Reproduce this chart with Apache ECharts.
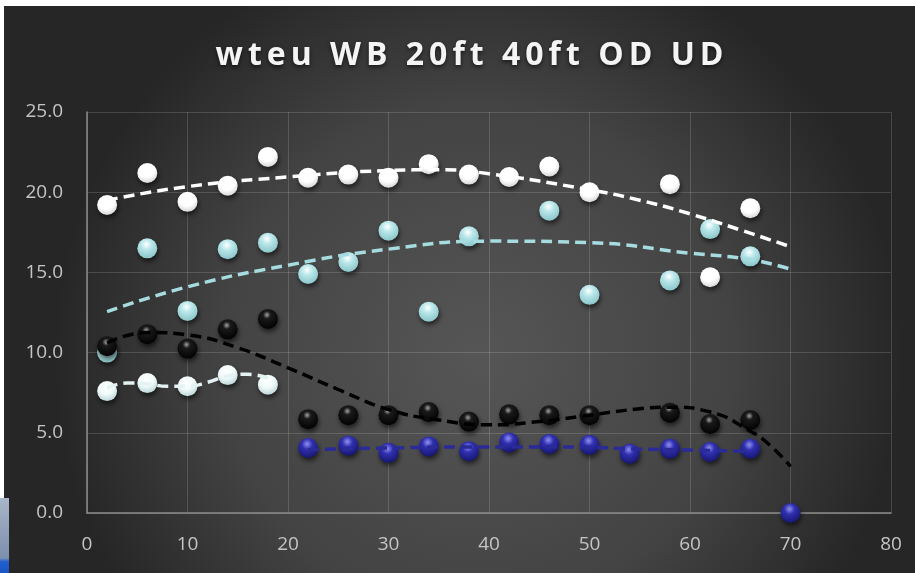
<!DOCTYPE html>
<html><head><meta charset="utf-8">
<script src="https://cdn.jsdelivr.net/npm/echarts@6/dist/echarts.min.js"></script>
<style>html,body{margin:0;padding:0;background:#fff;}#c{width:915px;height:573px;}</style>
</head><body><div id="c"></div>
<script>
// ---- data ----
const titleText = "wteu WB 20ft 40ft OD UD";
const xTicks = [0, 80, 10];   // min, max, interval
const yTicks = [0, 25, 5];

const whiteX = [2,6,10,14,18,22,26,30,34,38,42,46,50,58,62,66];
const whiteY = [19.2,21.2,19.4,20.4,22.2,20.9,21.1,20.9,21.75,21.1,20.95,21.6,20.0,20.5,14.7,19.0];

const cyanX = [2,6,10,14,18,22,26,30,34,38,46,50,58,62,66];
const cyanY = [10.0,16.5,12.6,16.45,16.85,14.9,15.65,17.6,12.55,17.25,18.85,13.6,14.5,17.7,16.0];

const blackX = [2,6,10,14,18,22,26,30,34,38,42,46,50,58,62,66];
const blackY = [10.4,11.15,10.25,11.45,12.1,5.85,6.1,6.1,6.3,5.7,6.15,6.1,6.1,6.25,5.55,5.8];

const paleX = [2,6,10,14,18];
const paleY = [7.6,8.1,7.9,8.6,8.0];

const blueX = [22,26,30,34,38,42,46,50,54,58,62,66,70];
const blueY = [4.05,4.2,3.75,4.15,3.85,4.4,4.3,4.25,3.7,4.0,3.8,4.0,0.0];

// trendline readings
const whiteTrendX = [2,10,20,30,35,40,50,55,60,65,70];
const whiteTrendY = [19.5,20.35,20.95,21.35,21.4,21.15,20.15,19.5,18.65,17.65,16.6];
const cyanTrendX = [2,10,20,30,40,50,60,66,70];
const cyanTrendY = [12.55,14.1,15.45,16.45,16.95,16.85,16.2,15.8,15.2];
const blackTrendX = [2,6,10,15,20,25,30,35,40,45,50,55,58,62,66,68,70];
const blackTrendY = [10.6,11.25,11.1,10.3,9.05,7.7,6.45,5.8,5.5,5.7,6.1,6.5,6.6,6.3,5.1,4.2,2.9];
const paleTrendX = [2,4,6,8,10,12,14,16,18];
const paleTrendY = [7.8,8.1,8.05,7.9,7.9,8.15,8.55,8.65,8.4];
const blueTrendX = [22,30,38,46,50,54,60,66];
const blueTrendY = [3.95,4.05,4.12,4.12,4.1,4.0,3.92,3.85];

function zip(xs, ys){ return xs.map((x,i)=>[x, ys[i]]); }

function sphere(c0, c1, c2, mid){
  return {type:'radial', x:0.45, y:0.3, r:0.75,
    colorStops:[{offset:0,color:c0},{offset:mid,color:c1},{offset:1,color:c2}]};
}

function scatter(name, xs, ys, col){
  return {name, type:'scatter', data: zip(xs, ys), symbolSize: 20, z: 3,
    itemStyle:{color: col, opacity:1, shadowBlur:5, shadowColor:'rgba(0,0,0,0.6)', shadowOffsetY:3, shadowOffsetX:1}};
}
function trend(name, xs, ys, col){
  return {name, type:'line', data: zip(xs, ys), smooth: 0.5, showSymbol:false, symbol:'none', z: 5,
    lineStyle:{color: col, width: 3.5, type:[11,6], cap:'butt'}};
}

const chart = echarts.init(document.getElementById('c'), null, {renderer:'canvas'});
chart.setOption({
  animation:false,
  backgroundColor:'transparent',
  graphic:[
    {type:'rect', z:-10, shape:{x:4,y:6,width:911,height:567},
      style:{fill:{type:'radial', x:0.52, y:0.62, r:0.75,
        colorStops:[{offset:0,color:'#565656'},{offset:0.6,color:'#434343'},{offset:1,color:'#262626'}]}}},
    {type:'rect', z:-9, shape:{x:0,y:498,width:9,height:75},
      style:{fill:{type:'linear', x:0,y:0,x2:0,y2:1,
        colorStops:[{offset:0,color:'#aab6c8'},{offset:0.8,color:'#7d8fae'},{offset:0.85,color:'#1f5fd0'},{offset:1,color:'#1a56c4'}]}}}
  ],
  title:{text:titleText, left:467, top:35, textAlign:'center', zlevel:1,
    textStyle:{color:'#f4f4f4', fontFamily:'Open Sans', fontWeight:'bold', fontSize:32,
      textShadowColor:'rgba(0,0,0,0.6)', textShadowBlur:4, textShadowOffsetY:2}},
  grid:{left:87, right:24, top:112, bottom:60},
  xAxis:{type:'value', min:xTicks[0], max:xTicks[1], interval:xTicks[2],
    axisLine:{show:true, onZero:false, lineStyle:{color:'#8c8c8c', width:1.5}},
    axisTick:{show:false},
    axisLabel:{color:'#c4c4c4', fontFamily:'Open Sans', fontSize:19, margin:22},
    splitLine:{show:true, lineStyle:{color:'rgba(255,255,255,0.15)', width:1}}},
  yAxis:{type:'value', min:yTicks[0], max:yTicks[1], interval:yTicks[2],
    axisLine:{show:true, onZero:false, lineStyle:{color:'#8c8c8c', width:1.5}},
    axisTick:{show:false},
    axisLabel:{color:'#c4c4c4', fontFamily:'Open Sans', fontSize:19, margin:24,
      formatter:v=>v.toFixed(1)},
    splitLine:{show:true, lineStyle:{color:'rgba(255,255,255,0.15)', width:1}}},
  series:[
    scatter('white', whiteX, whiteY, sphere('#ffffff','#ffffff','#cfcfcf',0.55)),
    scatter('cyan', cyanX, cyanY, sphere('#ffffff','#b9e7ea','#86c2c6',0.35)),
    scatter('black', blackX, blackY, sphere('#a0a0a0','#1a1a1a','#000000',0.25)),
    scatter('pale', paleX, paleY, sphere('#ffffff','#f0f9f9','#b4d2d4',0.5)),
    scatter('blue', blueX, blueY, sphere('#9090f0','#3030b0','#14146a',0.35)),
    trend('whiteTrend', whiteTrendX, whiteTrendY, '#ffffff'),
    trend('cyanTrend', cyanTrendX, cyanTrendY, '#a6dcdf'),
    trend('blackTrend', blackTrendX, blackTrendY, '#000000'),
    trend('paleTrend', paleTrendX, paleTrendY, '#e4f2f3'),
    trend('blueTrend', blueTrendX, blueTrendY, '#2a2a98')
  ]
});
// widen the title's letter spacing (title lives on its own canvas layer)
try {
  const zr = chart.getZr();
  const layer = zr.painter.getLayer(1);
  if (layer && layer.ctx) { layer.ctx.letterSpacing = '5px'; }
  zr.painter.refresh(true);
} catch (e) {}
</script></body></html>
